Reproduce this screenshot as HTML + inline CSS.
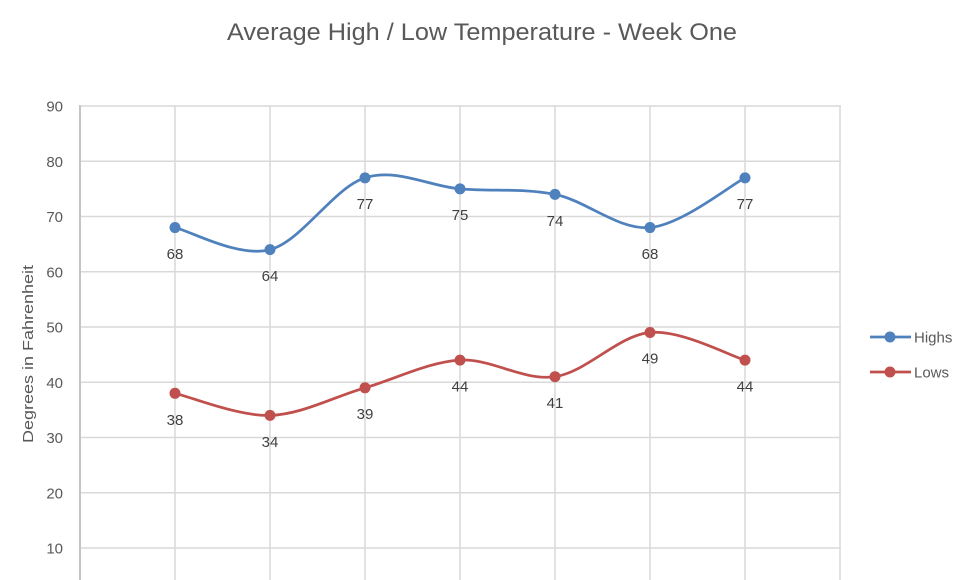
<!DOCTYPE html>
<html>
<head>
<meta charset="utf-8">
<style>
  html, body { margin: 0; padding: 0; background: #ffffff; }
  svg { display: block; }
  text { font-family: "Liberation Sans", sans-serif; }
</style>
</head>
<body>
<svg width="965" height="580" viewBox="0 0 965 580" xmlns="http://www.w3.org/2000/svg">
  <rect x="0" y="0" width="965" height="580" fill="#ffffff"/>

  <!-- Title -->
  <text x="482" y="40" font-size="24" fill="#595959" text-anchor="middle" textLength="510" lengthAdjust="spacingAndGlyphs">Average High / Low Temperature - Week One</text>

  <!-- Horizontal gridlines -->
  <g stroke="#d9d9d9" stroke-width="1.5">
    <line x1="80" y1="106" x2="841" y2="106"/>
    <line x1="80" y1="161.25" x2="841" y2="161.25"/>
    <line x1="80" y1="216.5" x2="841" y2="216.5"/>
    <line x1="80" y1="271.75" x2="841" y2="271.75"/>
    <line x1="80" y1="327" x2="841" y2="327"/>
    <line x1="80" y1="382.25" x2="841" y2="382.25"/>
    <line x1="80" y1="437.5" x2="841" y2="437.5"/>
    <line x1="80" y1="492.75" x2="841" y2="492.75"/>
    <line x1="80" y1="548" x2="841" y2="548"/>
  </g>
  <!-- Vertical gridlines -->
  <g stroke="#d9d9d9" stroke-width="1.5">
    <line x1="175" y1="106" x2="175" y2="580"/>
    <line x1="270" y1="106" x2="270" y2="580"/>
    <line x1="365" y1="106" x2="365" y2="580"/>
    <line x1="460" y1="106" x2="460" y2="580"/>
    <line x1="555" y1="106" x2="555" y2="580"/>
    <line x1="650" y1="106" x2="650" y2="580"/>
    <line x1="745" y1="106" x2="745" y2="580"/>
    <line x1="840" y1="106" x2="840" y2="580"/>
  </g>
  <!-- Left axis line -->
  <line x1="80" y1="105" x2="80" y2="580" stroke="#c4c4c4" stroke-width="2"/>

  <!-- Y tick labels -->
  <g font-size="15" fill="#595959" text-anchor="end">
    <text x="63" y="111.5">90</text>
    <text x="63" y="166.75">80</text>
    <text x="63" y="222">70</text>
    <text x="63" y="277.25">60</text>
    <text x="63" y="332.5">50</text>
    <text x="63" y="387.75">40</text>
    <text x="63" y="443">30</text>
    <text x="63" y="498.25">20</text>
    <text x="63" y="553.5">10</text>
  </g>

  <!-- Y axis title -->
  <text x="0" y="0" font-size="15" fill="#595959" text-anchor="middle" textLength="178" lengthAdjust="spacingAndGlyphs" transform="translate(33,354) rotate(-90)">Degrees in Fahrenheit</text>

  <!-- Highs series -->
  <path d="M175,227.55 C190.83,231.23 238.33,257.94 270,249.65 C301.67,241.36 333.33,187.96 365,177.83 C396.67,167.70 428.33,186.12 460,188.88 C491.67,191.64 523.33,187.96 555,194.4 C586.67,200.85 618.33,230.31 650,227.55 C681.67,224.79 729.17,186.12 745,177.83"
        fill="none" stroke="#4f81bd" stroke-width="2.75" stroke-linecap="round"/>
  <g fill="#4f81bd">
    <circle cx="175" cy="227.55" r="5.5"/>
    <circle cx="270" cy="249.65" r="5.5"/>
    <circle cx="365" cy="177.83" r="5.5"/>
    <circle cx="460" cy="188.88" r="5.5"/>
    <circle cx="555" cy="194.4" r="5.5"/>
    <circle cx="650" cy="227.55" r="5.5"/>
    <circle cx="745" cy="177.83" r="5.5"/>
  </g>

  <!-- Lows series -->
  <path d="M175,393.3 C190.83,396.98 238.33,416.32 270,415.4 C301.67,414.48 333.33,397.01 365,387.8 C396.67,378.59 428.33,362.0 460,360.15 C491.67,358.3 523.33,381.31 555,376.7 C586.67,372.09 618.33,335.26 650,332.5 C681.67,329.74 729.17,355.54 745,360.15"
        fill="none" stroke="#c0504d" stroke-width="2.75" stroke-linecap="round"/>
  <g fill="#c0504d">
    <circle cx="175" cy="393.3" r="5.5"/>
    <circle cx="270" cy="415.4" r="5.5"/>
    <circle cx="365" cy="387.8" r="5.5"/>
    <circle cx="460" cy="360.15" r="5.5"/>
    <circle cx="555" cy="376.7" r="5.5"/>
    <circle cx="650" cy="332.5" r="5.5"/>
    <circle cx="745" cy="360.15" r="5.5"/>
  </g>

  <!-- Data labels -->
  <g font-size="15" fill="#404040" text-anchor="middle">
    <text x="175" y="259">68</text>
    <text x="270" y="281">64</text>
    <text x="365" y="209">77</text>
    <text x="460" y="220">75</text>
    <text x="555" y="226">74</text>
    <text x="650" y="259">68</text>
    <text x="745" y="209">77</text>

    <text x="175" y="425">38</text>
    <text x="270" y="447">34</text>
    <text x="365" y="419">39</text>
    <text x="460" y="391.5">44</text>
    <text x="555" y="408">41</text>
    <text x="650" y="363.5">49</text>
    <text x="745" y="391.5">44</text>
  </g>

  <!-- Legend -->
  <line x1="870" y1="337" x2="911" y2="337" stroke="#4f81bd" stroke-width="2.75"/>
  <circle cx="890" cy="337" r="5.5" fill="#4f81bd"/>
  <text x="914" y="342.5" font-size="15" fill="#595959">Highs</text>

  <line x1="870" y1="372" x2="911" y2="372" stroke="#c0504d" stroke-width="2.75"/>
  <circle cx="890" cy="372" r="5.5" fill="#c0504d"/>
  <text x="914" y="377.5" font-size="15" fill="#595959">Lows</text>
</svg>
</body>
</html>
